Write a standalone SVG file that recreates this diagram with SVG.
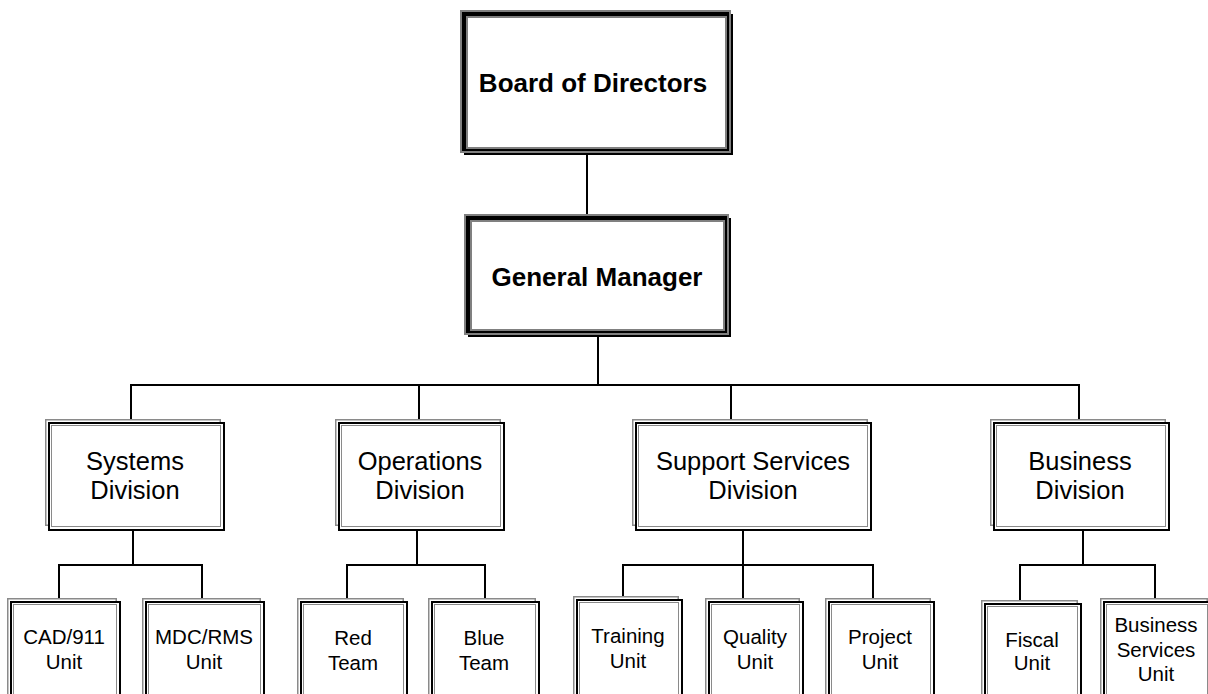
<svg xmlns="http://www.w3.org/2000/svg" width="1208" height="694" viewBox="0 0 1208 694">
  <style>
    .bk { fill: #000; }
    .gy { fill: #808080; }
    .wh { fill: #fff; }
    .fo { fill: none; stroke: #8a8a8a; stroke-width: 1.5; }
    .fk { fill: #fff; stroke: #000; stroke-width: 2; }
    .fi { fill: #fff; stroke: #8a8a8a; stroke-width: 1; }
    .ln { fill: none; stroke: #000; stroke-width: 2; }
    .tb { font-family: "Liberation Sans", Arial, sans-serif; font-weight: bold; font-size: 26px; text-anchor: middle; fill: #000; }
    .td { font-family: "Liberation Sans", Arial, sans-serif; font-size: 25.5px; text-anchor: middle; fill: #000; }
    .tu { font-family: "Liberation Sans", Arial, sans-serif; font-size: 20.5px; text-anchor: middle; fill: #000; }
  </style>
  <rect width="1208" height="694" fill="#fff"/>

  <!-- connectors -->
  <g id="connectors">
    <path class="ln" d="M587,155 V214"/>
    <path class="ln" d="M598,337 V385"/>
    <path class="ln" d="M130,385 H1080"/>
    <path class="ln" d="M131,385 V419 M419,385 V419 M731,385 V419 M1079,385 V419"/>
    <!-- systems branch -->
    <path class="ln" d="M133,530 V565 M58,565 H203 M59,565 V598 M202,565 V598"/>
    <!-- operations branch -->
    <path class="ln" d="M417,530 V565 M346,565 H486 M347,565 V598 M485,565 V598"/>
    <!-- support services branch -->
    <path class="ln" d="M743,530 V565 M622,565 H874 M623,565 V596 M743,565 V598 M873,565 V598"/>
    <!-- business branch -->
    <path class="ln" d="M1083,530 V565 M1019,565 H1156 M1020,565 V600 M1155,565 V598"/>
  </g>

  <!-- top level: heavy framed boxes -->
  <g id="board">
    <rect class="bk" x="464" y="14" width="269" height="141"/>
    <rect class="gy" x="460" y="10" width="271" height="143"/>
    <rect class="bk" x="462" y="12" width="267" height="139"/>
    <rect class="gy" x="466" y="16" width="261" height="133"/>
    <rect class="wh" x="468" y="18" width="257" height="129"/>
    <text class="tb" x="593" y="92">Board of Directors</text>
  </g>

  <g id="general-manager">
    <rect class="bk" x="468" y="218" width="263" height="119"/>
    <rect class="gy" x="464" y="214" width="265" height="121"/>
    <rect class="bk" x="466" y="216" width="261" height="117"/>
    <rect class="gy" x="470" y="220" width="255" height="111"/>
    <rect class="wh" x="472" y="222" width="251" height="107"/>
    <text class="tb" x="597" y="286">General Manager</text>
  </g>

  <!-- divisions -->
  <g id="systems-division">
    <rect class="fo" x="45.75" y="419.75" width="174.5" height="105.5"/>
    <rect class="fk" x="49" y="423" width="175" height="107"/>
    <rect class="fi" x="51.5" y="425.5" width="169" height="101"/>
    <text class="td" x="135" y="470">Systems</text>
    <text class="td" x="135" y="499">Division</text>
  </g>

  <g id="operations-division">
    <rect class="fo" x="335.75" y="419.75" width="164.5" height="105.5"/>
    <rect class="fk" x="339" y="423" width="165" height="107"/>
    <rect class="fi" x="341.5" y="425.5" width="159" height="101"/>
    <text class="td" x="420" y="470">Operations</text>
    <text class="td" x="420" y="499">Division</text>
  </g>

  <g id="support-services-division">
    <rect class="fo" x="632.75" y="419.75" width="234.5" height="105.5"/>
    <rect class="fk" x="636" y="423" width="235" height="107"/>
    <rect class="fi" x="638.5" y="425.5" width="229" height="101"/>
    <text class="td" x="753" y="470">Support Services</text>
    <text class="td" x="753" y="499">Division</text>
  </g>

  <g id="business-division">
    <rect class="fo" x="990.75" y="419.75" width="174.5" height="105.5"/>
    <rect class="fk" x="994" y="423" width="175" height="107"/>
    <rect class="fi" x="996.5" y="425.5" width="169" height="101"/>
    <text class="td" x="1080" y="470">Business</text>
    <text class="td" x="1080" y="499">Division</text>
  </g>

  <!-- units (frames run past the lower edge) -->
  <g id="cad-911-unit">
    <rect class="fo" x="7.75" y="598.75" width="108.5" height="120"/>
    <rect class="fk" x="11" y="602" width="109" height="120"/>
    <rect class="fi" x="13.5" y="604.5" width="103" height="120"/>
    <text class="tu" x="64" y="644">CAD/911</text>
    <text class="tu" x="64" y="669">Unit</text>
  </g>

  <g id="mdc-rms-unit">
    <rect class="fo" x="142.75" y="598.75" width="117.5" height="120"/>
    <rect class="fk" x="146" y="602" width="118" height="120"/>
    <rect class="fi" x="148.5" y="604.5" width="112" height="120"/>
    <text class="tu" x="204" y="644">MDC/RMS</text>
    <text class="tu" x="204" y="669">Unit</text>
  </g>

  <g id="red-team">
    <rect class="fo" x="297.75" y="598.75" width="105.5" height="120"/>
    <rect class="fk" x="301" y="602" width="106" height="120"/>
    <rect class="fi" x="303.5" y="604.5" width="100" height="120"/>
    <text class="tu" x="353" y="645">Red</text>
    <text class="tu" x="353" y="670">Team</text>
  </g>

  <g id="blue-team">
    <rect class="fo" x="428.75" y="598.75" width="106.5" height="120"/>
    <rect class="fk" x="432" y="602" width="107" height="120"/>
    <rect class="fi" x="434.5" y="604.5" width="101" height="120"/>
    <text class="tu" x="484" y="645">Blue</text>
    <text class="tu" x="484" y="670">Team</text>
  </g>

  <g id="training-unit">
    <rect class="fo" x="573.75" y="596.75" width="104.5" height="120"/>
    <rect class="fk" x="577" y="600" width="105" height="120"/>
    <rect class="fi" x="579.5" y="602.5" width="99" height="120"/>
    <text class="tu" x="628" y="643">Training</text>
    <text class="tu" x="628" y="668">Unit</text>
  </g>

  <g id="quality-unit">
    <rect class="fo" x="705.75" y="598.75" width="93.5" height="120"/>
    <rect class="fk" x="709" y="602" width="94" height="120"/>
    <rect class="fi" x="711.5" y="604.5" width="88" height="120"/>
    <text class="tu" x="755" y="644">Quality</text>
    <text class="tu" x="755" y="669">Unit</text>
  </g>

  <g id="project-unit">
    <rect class="fo" x="825.75" y="598.75" width="104.5" height="120"/>
    <rect class="fk" x="829" y="602" width="105" height="120"/>
    <rect class="fi" x="831.5" y="604.5" width="99" height="120"/>
    <text class="tu" x="880" y="644">Project</text>
    <text class="tu" x="880" y="669">Unit</text>
  </g>

  <g id="fiscal-unit">
    <rect class="fo" x="981.75" y="600.75" width="95.5" height="120"/>
    <rect class="fk" x="985" y="604" width="96" height="120"/>
    <rect class="fi" x="987.5" y="606.5" width="90" height="120"/>
    <text class="tu" x="1032" y="647">Fiscal</text>
    <text class="tu" x="1032" y="670">Unit</text>
  </g>

  <g id="business-services-unit">
    <rect class="fo" x="1100.75" y="598.75" width="106.5" height="120"/>
    <rect class="fk" x="1104" y="602" width="107" height="120"/>
    <rect class="fi" x="1106.5" y="604.5" width="101" height="120"/>
    <text class="tu" x="1156" y="632">Business</text>
    <text class="tu" x="1156" y="657">Services</text>
    <text class="tu" x="1156" y="681">Unit</text>
  </g>
</svg>
